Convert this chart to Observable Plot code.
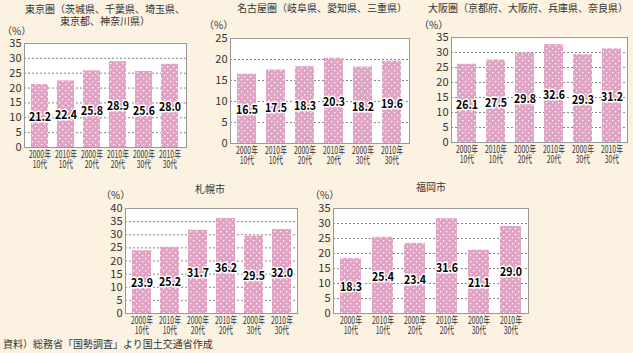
<!DOCTYPE html>
<html><head><meta charset="utf-8">
<script src="https://cdn.jsdelivr.net/npm/d3@7"></script>
<script src="https://cdn.jsdelivr.net/npm/@observablehq/plot@0.6"></script>
<style>
html,body{margin:0;padding:0;background:#FCF2E2;}
#root{position:relative;width:633px;height:353px;overflow:hidden;font-family:"Noto Sans CJK JP",sans-serif;color:#333;}
.t{position:absolute;font-size:10px;white-space:nowrap;line-height:10px;transform:translate(-50%,-50%);text-align:center;}
.u{position:absolute;font-size:10px;white-space:nowrap;line-height:10px;transform:translate(0,-50%);}
</style></head><body>
<svg width="0" height="0" style="position:absolute"><defs>
<pattern id="dots" width="6" height="6" patternUnits="userSpaceOnUse">
<rect width="6" height="6" fill="#E0A3C4"/>
<rect x="1" y="1" width="1.3" height="1.3" fill="#fff"/>
<rect x="4" y="4" width="1.3" height="1.3" fill="#fff"/>
</pattern></defs></svg>
<div id="root"></div>
<script>
const categories = ["2000年\n10代","2010年\n10代","2000年\n20代","2010年\n20代","2000年\n30代","2010年\n30代"];
const titles = ["東京圏（茨城県、千葉県、埼玉県、\n東京都、神奈川県）","名古屋圏（岐阜県、愛知県、三重県）","大阪圏（京都府、大阪府、兵庫県、奈良県）","札幌市","福岡市"];
const tokyo = [21.2,22.4,25.8,28.9,25.6,28.0];
const nagoya = [16.5,17.5,18.3,20.3,18.2,19.6];
const osaka = [26.1,27.5,29.8,32.6,29.3,31.2];
const sapporo = [23.9,25.2,31.7,36.2,29.5,32.0];
const fukuoka = [18.3,25.4,23.4,31.6,21.1,29.0];
const yMaxes = [35,25,35,40,35];
const unitLabel = "（%）";
const caption = "資料）総務省「国勢調査」より国土交通省作成";

const series = [tokyo, nagoya, osaka, sapporo, fukuoka];
const frames = [
  {x0:24,x1:186,y0:43,y1:147, tx:105, ty:[9,21], ux:2, uy:31},
  {x0:230,x1:409,y0:38,y1:143, tx:322, ty:[8], ux:204, uy:25},
  {x0:451,x1:627,y0:37,y1:142, tx:528, ty:[8], ux:419, uy:25},
  {x0:125,x1:297,y0:208,y1:313, tx:210, ty:[189], ux:101, uy:195},
  {x0:333,x1:528,y0:208,y1:313, tx:431, ty:[187], ux:310, uy:195}
];
const root = document.getElementById("root");
const font = '"Noto Sans CJK JP", sans-serif';

function squeezeAll(svg) {
  svg.querySelectorAll("text").forEach(el => {
    const g = el.closest("g[aria-label]");
    const lab = g ? g.getAttribute("aria-label") : "";
    let s = null;
    if (lab.startsWith("x-axis")) s = 0.68;
    else if (el.getAttribute("font-weight") === "bold" || (g && g.getAttribute("font-weight") === "bold")) s = 0.88;
    if (s == null) return;
    const bb = el.getBBox();
    const cx = bb.x + bb.width / 2;
    const t = el.getAttribute("transform") || "";
    el.setAttribute("transform", `${t} translate(${cx},0) scale(${s},1) translate(${-cx},0)`);
  });
}

series.forEach((values, k) => {
  const f = frames[k];
  const ymax = yMaxes[k];
  const data = categories.map((c, i) => ({c, v: values[i]}));
  const ticks = d3.range(0, ymax + 1, 5);
  const ml = 26, mr = 3, mt = 8, mb = 30;
  const svg = Plot.plot({
    width: f.x1 - f.x0 + ml + mr,
    height: f.y1 - f.y0 + mt + mb,
    marginLeft: ml, marginRight: mr, marginTop: mt, marginBottom: mb,
    style: {background: "transparent", fontFamily: font, color: "#333", overflow: "visible"},
    x: {domain: categories, paddingInner: 0.33, paddingOuter: 0.17, label: null},
    y: {domain: [0, ymax], label: null},
    marks: [
      Plot.frame({fill: "white"}),
      Plot.gridY(ticks.slice(1, -1), {stroke: "#888", strokeOpacity: 1, strokeDasharray: "2,2"}),
      Plot.barY(data, {x: "c", y: "v", fill: "url(#dots)"}),
      Plot.frame({stroke: "#999"}),
      Plot.axisY(ticks, {tickSize: 0, tickPadding: 3, fontSize: 11, label: null}),
      Plot.axisX({tickSize: 0, tickPadding: 3, fontSize: 10, label: null, tickFormat: d => d.split("\n")[0]}),
      Plot.axisX({tickSize: 0, tickPadding: 13, fontSize: 10, label: null, tickFormat: d => d.split("\n")[1]}),
      Plot.text(data, {x: "c", y: d => d.v * 0.48, text: d => d.v.toFixed(1), fontSize: 12, fontWeight: "bold", fill: "black", stroke: "white", strokeWidth: 3, paintOrder: "stroke"})
    ]
  });
  svg.style.position = "absolute";
  svg.style.left = (f.x0 - ml) + "px";
  svg.style.top = (f.y0 - mt) + "px";
  root.appendChild(svg);
  squeezeAll(svg);
  titles[k].split("\n").forEach((line, j) => {
    const d = document.createElement("div");
    d.className = "t";
    d.textContent = line;
    d.style.left = f.tx + "px";
    d.style.top = f.ty[j] + "px";
    root.appendChild(d);
  });
  const u = document.createElement("div");
  u.className = "u";
  u.textContent = unitLabel;
  u.style.left = f.ux + "px";
  u.style.top = f.uy + "px";
  root.appendChild(u);
});
const cap = document.createElement("div");
cap.className = "u";
cap.textContent = caption;
cap.style.left = "3px";
cap.style.top = "344px";
root.appendChild(cap);
</script>
</body></html>
